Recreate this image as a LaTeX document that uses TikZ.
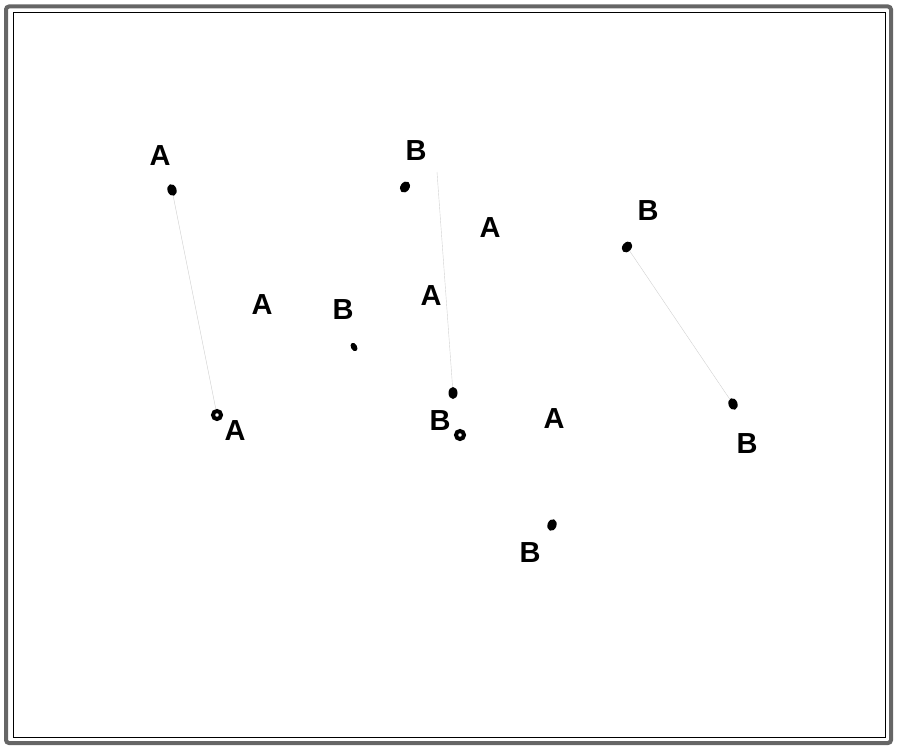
\documentclass[tikz,border=0pt]{standalone}
\usepackage{fontspec}
\setmainfont{Liberation Sans}
\usetikzlibrary{shapes.geometric}
\begin{document}
\begin{tikzpicture}[x=1pt,y=-1pt,
  lbl/.style={inner sep=0pt,font=\fontsize{29}{29}\selectfont\bfseries},
  pt/.style={ellipse,fill=black,inner sep=0pt,minimum width=9pt,minimum height=12pt},
  ptsmall/.style={ellipse,fill=black,inner sep=0pt,minimum width=6pt,minimum height=9pt},
  ring/.style={circle,draw=black,line width=4pt,fill=white,inner sep=0pt,minimum size=8pt},
  faint/.style={draw=black!18,line width=0.4pt}]
\useasboundingbox (0,0) rectangle (900,752);
\draw[black!60,line width=4pt,rounded corners=3pt] (6,6.5) rectangle (891,743);
\draw[black,line width=1pt] (13,13) rectangle (885,737);
% labels
\node[lbl] (a1) at (160,156) {A};
\node[lbl] (a2) at (235,431) {A};
\node[lbl] (a3) at (262,305) {A};
\node[lbl] (a4) at (431,296) {A};
\node[lbl] (a5) at (490,228) {A};
\node[lbl] (a6) at (554,419) {A};
\node[lbl] (b1) at (343,310) {B};
\node[lbl] (b2) at (416,151) {B};
\node[lbl] (b3) at (440,421) {B};
\node[lbl] (b4) at (648,211) {B};
\node[lbl] (b5) at (747,444) {B};
\node[lbl] (b6) at (530,553) {B};
% points
\node[pt,rotate=20] (p1) at (172,190) {};
\node[ring] (r1) at (217,415) {};
\node[ptsmall,rotate=30] (p2) at (354,347) {};
\node[pt,rotate=-35] (p3) at (405,187) {};
\node[pt,rotate=0] (p4) at (453,393) {};
\node[ring] (r2) at (460,435) {};
\node[pt,rotate=-40] (p5) at (627,247) {};
\node[pt,rotate=20] (p6) at (733,404) {};
\node[pt,rotate=-20] (p7) at (552,525) {};
% faint lines
\coordinate (c1) at (437,172);
\draw[faint] (p1) -- (r1);
\draw[faint] (c1) -- (p4);
\draw[faint] (p5) -- (p6);
\end{tikzpicture}
\end{document}
